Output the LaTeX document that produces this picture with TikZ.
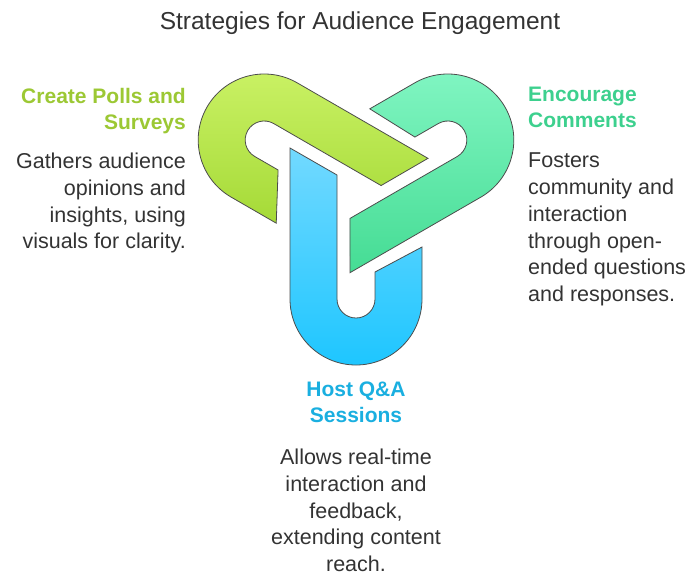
\documentclass[tikz,border=0pt]{standalone}
\usepackage{fontspec}
\setmainfont{Liberation Sans}
\definecolor{bt}{HTML}{72D9FF}\definecolor{bb}{HTML}{1EC6FF}
\definecolor{gt}{HTML}{CBF266}\definecolor{gb}{HTML}{A5DA37}
\definecolor{tt}{HTML}{82F6C3}\definecolor{tb}{HTML}{45DC94}
\definecolor{cg}{HTML}{9CC834}\definecolor{ct}{HTML}{3DD08E}\definecolor{cb}{HTML}{1AAFE0}
\begin{document}
\begin{tikzpicture}[x=1pt,y=1pt,
  piece/.style={draw=black!70,line width=0.8pt},
  head/.style={font=\fontsize{21}{26}\selectfont\bfseries,inner sep=0pt},
  body/.style={font=\fontsize{21.5}{26.7}\selectfont,text=black!80,inner sep=0pt}]
\useasboundingbox (0,0) rectangle (700,-581);
\def\blade{(-66,45) -- (-66,-106) arc[start angle=180,end angle=360,radius=66] -- (66,-54) -- (19,-79) -- (19,-106) arc[start angle=0,end angle=-180,radius=19] -- (-19,18) -- cycle}
\begin{scope}[shift={(356,-193)}]
  \path[piece,top color=bt,bottom color=bb] \blade;
  \begin{scope}[rotate=-120]
    \path[piece,shading angle=-120,top color=gt,bottom color=gb] \blade;
  \end{scope}
  \begin{scope}[rotate=120]
    \path[piece,shading angle=120,top color=tt,bottom color=tb] \blade;
  \end{scope}
\end{scope}
\node[font=\fontsize{24.5}{26}\selectfont,text=black!80,inner sep=0pt] (title) at (360,-23) {Strategies for Audience Engagement};
\node[head,text=cg,align=right,anchor=north east] (h1) at (186,-88) {Create Polls and\\Surveys};
\node[body,align=right,anchor=north east] (b1) at (186,-153) {Gathers audience\\opinions and\\insights, using\\visuals for clarity.};
\node[head,text=ct,align=left,anchor=north west] (h2) at (528,-87) {Encourage\\Comments};
\node[body,align=left,anchor=north west] (b2) at (528,-153) {Fosters\\community and\\interaction\\through open-\\ended questions\\and responses.};
\node[head,text=cb,align=center,anchor=north] (h3) at (356,-382) {Host Q\&A\\Sessions};
\node[body,align=center,anchor=north] (b3) at (356,-449) {Allows real-time\\interaction and\\feedback,\\extending content\\reach.};
\end{tikzpicture}
\end{document}
